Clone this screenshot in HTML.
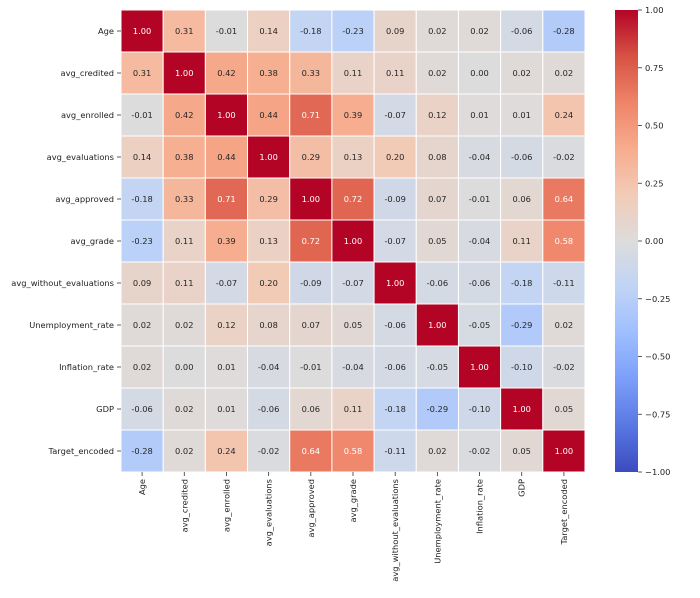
<!DOCTYPE html>
<html><head><meta charset="utf-8"><style>
body{margin:0;background:#fff;}
svg{display:block;font-family:"DejaVu Sans","Liberation Sans",sans-serif;}
</style></head><body>
<svg id="chart" width="700" height="598"></svg>
<script>
const labels=["Age","avg_credited","avg_enrolled","avg_evaluations","avg_approved","avg_grade","avg_without_evaluations","Unemployment_rate","Inflation_rate","GDP","Target_encoded"];
const matrix=[
[1.00,0.31,-0.01,0.14,-0.18,-0.23,0.09,0.02,0.02,-0.06,-0.28],
[0.31,1.00,0.42,0.38,0.33,0.11,0.11,0.02,0.00,0.02,0.02],
[-0.01,0.42,1.00,0.44,0.71,0.39,-0.07,0.12,0.01,0.01,0.24],
[0.14,0.38,0.44,1.00,0.29,0.13,0.20,0.08,-0.04,-0.06,-0.02],
[-0.18,0.33,0.71,0.29,1.00,0.72,-0.09,0.07,-0.01,0.06,0.64],
[-0.23,0.11,0.39,0.13,0.72,1.00,-0.07,0.05,-0.04,0.11,0.58],
[0.09,0.11,-0.07,0.20,-0.09,-0.07,1.00,-0.06,-0.06,-0.18,-0.11],
[0.02,0.02,0.12,0.08,0.07,0.05,-0.06,1.00,-0.05,-0.29,0.02],
[0.02,0.00,0.01,-0.04,-0.01,-0.04,-0.06,-0.05,1.00,-0.10,-0.02],
[-0.06,0.02,0.01,-0.06,0.06,0.11,-0.18,-0.29,-0.10,1.00,0.05],
[-0.28,0.02,0.24,-0.02,0.64,0.58,-0.11,0.02,-0.02,0.05,1.00]];
const cbarTicks=[1.00,0.75,0.50,0.25,0.00,-0.25,-0.50,-0.75,-1.00];

const stops=[[59,76,192],[89,119,227],[123,159,249],[158,190,255],[192,212,245],[221,220,220],[242,203,183],[247,172,142],[238,132,104],[214,82,68],[180,4,38]];
function cmap(v){let t=(v+1)/2*10;t=Math.max(0,Math.min(10,t));const i=Math.min(9,Math.floor(t)),f=t-i;
 const a=stops[i],b=stops[i+1];return `rgb(${a.map((c,k)=>Math.round(c+(b[k]-c)*f)).join(',')})`;}
const NS="http://www.w3.org/2000/svg",svg=document.getElementById('chart');
function el(tag,attrs,parent){const e=document.createElementNS(NS,tag);for(const k in attrs)e.setAttribute(k,attrs[k]);(parent||svg).appendChild(e);return e;}
const x0=121,y0=10,W=464,H=462,n=labels.length,cw=W/n,ch=H/n,fs=8.3;
const xs=i=>x0+i*cw, ys=j=>y0+j*ch;
const cells=el('g',{});


matrix.forEach((row,j)=>row.forEach((v,i)=>{
 const r=el('rect',{x:xs(i),y:ys(j),width:cw,height:ch,fill:cmap(v),stroke:'#fff','stroke-width':1},cells);
 
 
 const t=el('text',{x:xs(i)+cw/2,y:ys(j)+ch/2+3,'text-anchor':'middle','font-size':fs,fill:v>0.5?'#fff':'#262626'},cells);
 t.textContent=v.toFixed(2);
 
 
}));
labels.forEach((l,j)=>{
 el('line',{x1:x0-4,x2:x0,y1:ys(j)+ch/2,y2:ys(j)+ch/2,stroke:'#333','stroke-width':0.8});
 const t=el('text',{x:x0-7,y:ys(j)+ch/2+3,'text-anchor':'end','font-size':fs,fill:'#222'});
 t.textContent=l;
 
 
});
labels.forEach((l,i)=>{
 const cx=xs(i)+cw/2;
 el('line',{x1:cx,x2:cx,y1:y0+H,y2:y0+H+4,stroke:'#333','stroke-width':0.8});
 const t=el('text',{x:0,y:0,'text-anchor':'end','font-size':fs,fill:'#222',transform:`translate(${cx+3},${y0+H+7}) rotate(-90)`});
 t.textContent=l;
 
 
});
const cx0=615,cwid=23;
const defs=el('defs',{});
const lg=el('linearGradient',{id:'cg',x1:0,y1:1,x2:0,y2:0},defs);
stops.forEach((s,k)=>el('stop',{offset:k/10,'stop-color':`rgb(${s})`},lg));
const cb=el('rect',{x:cx0,y:y0,width:cwid,height:H,fill:'url(#cg)'});


const cy=v=>y0+(1-v)/2*H;
cbarTicks.forEach(v=>{
 el('line',{x1:cx0+cwid,x2:cx0+cwid+4,y1:cy(v),y2:cy(v),stroke:'#333','stroke-width':0.8});
 const t=el('text',{x:cx0+cwid+7,y:cy(v)+3,'font-size':fs,fill:'#222'});
 t.textContent=(v<0?'\u2212'+(-v).toFixed(2):v.toFixed(2));
 
 
});
</script>
</body></html>
